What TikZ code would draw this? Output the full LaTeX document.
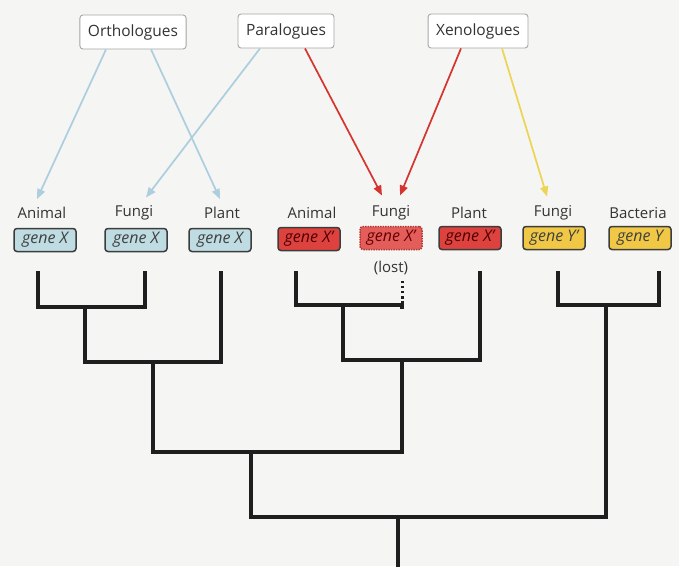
\documentclass[tikz,border=0pt]{standalone}
\usepackage{fontspec}
\setmainfont{Open Sans}
\usetikzlibrary{arrows.meta}
\definecolor{bg}{RGB}{245,245,243}
\definecolor{bluefill}{RGB}{190,220,226}
\definecolor{redfill}{RGB}{222,66,62}
\definecolor{yelfill}{RGB}{240,200,70}
\definecolor{bluearrow}{RGB}{172,206,222}
\definecolor{redarrow}{RGB}{214,52,46}
\definecolor{yelarrow}{RGB}{236,212,84}
\definecolor{boxline}{RGB}{60,60,60}
\definecolor{treeline}{RGB}{30,30,30}
\tikzset{
  catbox/.style={draw=gray!70, fill=white, rounded corners=3pt, line width=0.9pt,
    inner xsep=8pt, minimum height=34pt, font=\fontsize{15.5}{17}\selectfont, text=black!80},
  taxon/.style={inner sep=0pt, font=\fontsize{15}{17}\selectfont, text=black!80},
  genebox/.style={draw=boxline, rounded corners=3pt, line width=1.5pt,
    minimum width=62pt, minimum height=23pt, inner sep=0pt,
    font=\fontsize{16}{17}\selectfont\itshape},
  blueg/.style={genebox, fill=bluefill, text=black!75},
  redg/.style={genebox, fill=redfill, text=black!70!red},
  lostg/.style={genebox, fill=redfill!85!white, draw=redfill!80!black, densely dotted, text=black!60!red},
  yelg/.style={genebox, fill=yelfill, text=black!75},
  arr/.style={line width=1.7pt, -{Triangle[length=10pt,width=8pt]}},
  tree/.style={draw=treeline, line width=3.2pt, line cap=rect, line join=miter},
}
\begin{document}
\begin{tikzpicture}[x=1pt,y=-1pt]
\fill[bg] (0,0) rectangle (679,566);
\useasboundingbox (0,0) rectangle (679,566);

% category boxes
\node[catbox] (orth) at (133,32) {Orthologues};
\node[catbox] (para) at (286,31) {Paralogues};
\node[catbox] (xeno) at (478,31) {Xenologues};

% taxon labels
\node[taxon] (t1) at (42,213) {Animal};
\node[taxon] (t2) at (134,213) {Fungi};
\node[taxon] (t3) at (222,213) {Plant};
\node[taxon] (t4) at (312,213) {Animal};
\node[taxon] (t5) at (391,213) {Fungi};
\node[taxon] (t6) at (469,213) {Plant};
\node[taxon] (t7) at (553,213) {Fungi};
\node[taxon] (t8) at (638,213) {Bacteria};

% gene boxes
\node[blueg] (g1) at (45,240) {gene X};
\node[blueg] (g2) at (136,240) {gene X};
\node[blueg] (g3) at (220,240) {gene X};
\node[redg]  (g4) at (309,239) {gene X'};
\node[lostg] (g5) at (391,238) {gene X'};
\node[redg]  (g6) at (470,238) {gene X'};
\node[yelg]  (g7) at (554,238) {gene Y'};
\node[yelg]  (g8) at (640,238) {gene Y};
\node[taxon] (lost) at (391,268) {(lost)};

% arrows
\draw[arr, bluearrow] ([xshift=-27pt]orth.south) -- ([xshift=-5pt,yshift=8pt]t1.north);
\draw[arr, bluearrow] ([xshift=18pt]orth.south) -- ([xshift=-2pt,yshift=8pt]t3.north);
\draw[arr, bluearrow] ([xshift=-26pt]para.south) -- ([xshift=12pt,yshift=8pt]t2.north);
\draw[arr, redarrow] ([xshift=19pt]para.south) -- ([xshift=-9pt,yshift=10pt]t5.north);
\draw[arr, redarrow] ([xshift=-17pt]xeno.south) -- ([xshift=9pt,yshift=10pt]t5.north);
\draw[arr, yelarrow] ([xshift=24pt]xeno.south) -- ([xshift=-6pt,yshift=9pt]t7.north);

% tree coordinates
\coordinate (l1) at (38,273);
\coordinate (l2) at (145,273);
\coordinate (l3) at (221,273);
\coordinate (l4) at (296,273);
\coordinate (l5) at (402,281);
\coordinate (l6) at (480,273);
\coordinate (l7) at (558,273);
\coordinate (l8) at (659,273);
\coordinate (n12) at (85,307);
\coordinate (n123) at (153,362);
\coordinate (n45) at (343,305);
\coordinate (n456) at (402,360);
\coordinate (n78) at (606,305);
\coordinate (n1_6) at (251,452);
\coordinate (root) at (398,517);
\coordinate (base) at (398,570);

% tree
\draw[tree] (l1) |- (n12) -| (l2);
\draw[tree] (n12) |- (n123) -| (l3);
\draw[tree] (l4) |- (n45) -| ([yshift=-2pt]n45 -| l5);
\draw[tree, line cap=butt, dash pattern=on 2.6pt off 2.6pt, line width=3pt] ([yshift=-4pt]n45 -| l5) -- (l5);
\draw[tree] (n45) |- (n456) -| (l6);
\draw[tree] (l7) |- (n78) -| (l8);
\draw[tree] (n123) |- (n1_6) -| (n456);
\draw[tree] (n1_6) |- (root) -| (n78);
\draw[tree, line cap=butt] (root) -- (base);
\end{tikzpicture}
\end{document}
